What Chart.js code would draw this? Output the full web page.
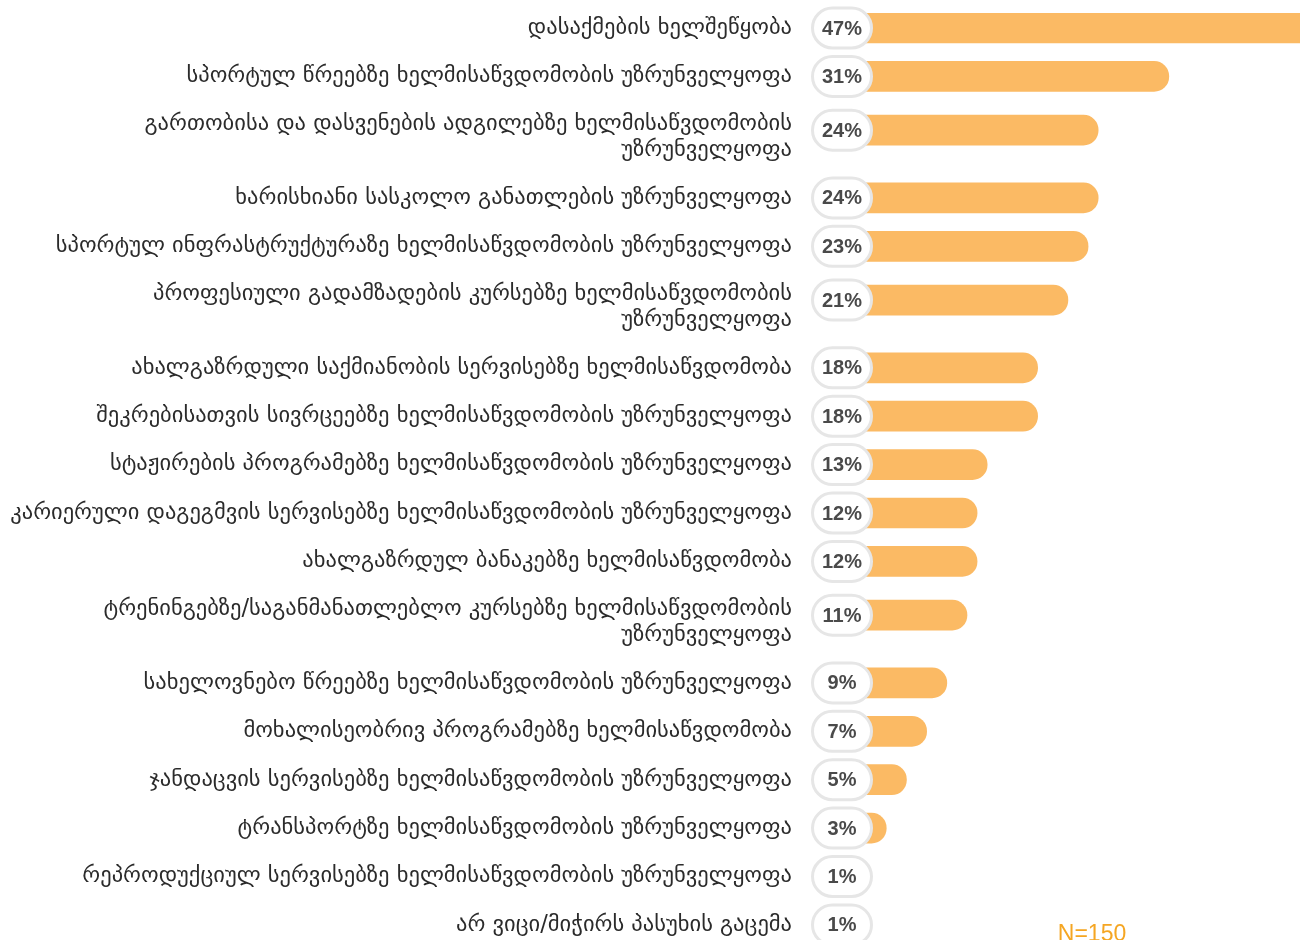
<!DOCTYPE html>
<html>
<head>
<meta charset="utf-8">
<script src="https://cdn.jsdelivr.net/npm/chart.js@4.4.1/dist/chart.umd.min.js"></script>
<style>
  html, body { margin: 0; padding: 0; background: #fff; }
  #wrap { position: relative; width: 1300px; height: 940px; }
</style>
</head>
<body>
<div id="wrap"><canvas id="chart"></canvas></div>
<script>
// categories (wrapped ones are given as line arrays)
const categories = [
  "დასაქმების ხელშეწყობა",
  "სპორტულ წრეებზე ხელმისაწვდომობის უზრუნველყოფა",
  ["გართობისა და დასვენების ადგილებზე ხელმისაწვდომობის", "უზრუნველყოფა"],
  "ხარისხიანი სასკოლო განათლების უზრუნველყოფა",
  "სპორტულ ინფრასტრუქტურაზე ხელმისაწვდომობის უზრუნველყოფა",
  ["პროფესიული გადამზადების კურსებზე ხელმისაწვდომობის", "უზრუნველყოფა"],
  "ახალგაზრდული საქმიანობის სერვისებზე ხელმისაწვდომობა",
  "შეკრებისათვის სივრცეებზე ხელმისაწვდომობის უზრუნველყოფა",
  "სტაჟირების პროგრამებზე ხელმისაწვდომობის უზრუნველყოფა",
  "კარიერული დაგეგმვის სერვისებზე ხელმისაწვდომობის უზრუნველყოფა",
  "ახალგაზრდულ ბანაკებზე ხელმისაწვდომობა",
  ["ტრენინგებზე/საგანმანათლებლო კურსებზე ხელმისაწვდომობის", "უზრუნველყოფა"],
  "სახელოვნებო წრეებზე ხელმისაწვდომობის უზრუნველყოფა",
  "მოხალისეობრივ პროგრამებზე ხელმისაწვდომობა",
  "ჯანდაცვის სერვისებზე ხელმისაწვდომობის უზრუნველყოფა",
  "ტრანსპორტზე ხელმისაწვდომობის უზრუნველყოფა",
  "რეპროდუქციულ სერვისებზე ხელმისაწვდომობის უზრუნველყოფა",
  "არ ვიცი/მიჭირს პასუხის გაცემა"
];

const values = [47, 31, 24, 24, 23, 21, 18, 18, 13, 12, 12, 11, 9, 7, 5, 3, 1, 1];

const sampleNote = "N=150";

// row layout: taller rows for wrapped labels
const ROW = 48.4, EXTRA_LINE = 24.7, BAR_SHIFT = 7, FIRST_ROW_Y = 28;
const lineCount = c => Array.isArray(c) ? c.length : 1;

let acc = 0;
const rowCenters = categories.map(c => {
  const h = ROW + EXTRA_LINE * (lineCount(c) - 1);
  const mid = acc + h / 2;
  acc += h;
  return mid;
});
const barCenters = rowCenters.map((m, i) => m - BAR_SHIFT * (lineCount(categories[i]) - 1));

const pillPlugin = {
  id: "pills",
  afterDatasetsDraw(chart) {
    const { ctx, chartArea } = chart;
    const meta = chart.getDatasetMeta(0);
    const w = 59, h = 40;
    ctx.save();
    meta.data.forEach((bar, i) => {
      const cx = chartArea.left - 14, cy = bar.y;
      ctx.beginPath();
      ctx.roundRect(cx - w / 2, cy - h / 2, w, h, h / 2);
      ctx.fillStyle = "#fff";
      ctx.fill();
      ctx.lineWidth = 3;
      ctx.strokeStyle = "#e6e6e6";
      ctx.stroke();
      ctx.fillStyle = "#4a4a4a";
      ctx.font = 'bold 20px "Liberation Sans", Arial, sans-serif';
      ctx.textAlign = "center";
      ctx.textBaseline = "middle";
      ctx.fillText(values[i] + "%", cx, cy + 1);
    });
    ctx.restore();
  },
  afterDraw(chart) {
    const { ctx } = chart;
    ctx.save();
    ctx.fillStyle = "#f5a623";
    ctx.font = '23px "Liberation Sans", Arial, sans-serif';
    ctx.textAlign = "center";
    ctx.textBaseline = "alphabetic";
    ctx.fillText(sampleNote, 1092, 941);
    ctx.restore();
  }
};

const chart = new Chart(document.getElementById("chart"), {
  type: "bar",
  data: {
    datasets: [{
      data: values.map((v, i) => ({ x: v, y: barCenters[i] })),
      backgroundColor: "#fbba64",
      borderWidth: 0,
      borderRadius: 15,
      borderSkipped: "start",
      barThickness: 30
    }]
  },
  options: {
    indexAxis: "y",
    responsive: true,
    maintainAspectRatio: false,
    animation: false,
    layout: { padding: 0 },
    plugins: {
      legend: { display: false },
      tooltip: { enabled: false }
    },
    scales: {
      x: {
        type: "linear",
        min: 0,
        max: 44,
        display: false
      },
      y: {
        type: "linear",
        reverse: true,
        offset: false,
        min: 0,
        max: 940,
        grid: { display: false, offset: false, drawTicks: true, tickLength: 64 },
        border: { display: false },
        afterBuildTicks: scale => {
          scale.ticks = rowCenters.map(v => ({ value: v }));
        },
        afterFit: scale => {
          scale.width = 856;
        },
        ticks: {
          autoSkip: false,
          padding: 0,
          color: "#2b2b2b",
          font: { family: '"DejaVu Sans", sans-serif', size: 22.5, lineHeight: 1.16 },
          callback: (value, index) => categories[index]
        }
      }
    }
  },
  plugins: [pillPlugin]
});

// keep one row unit = one pixel, whatever padding the axis reserves
const area = chart.chartArea;
const yOpts = chart.options.scales.y;
yOpts.min = barCenters[0] - (FIRST_ROW_Y - area.top);
yOpts.max = yOpts.min + (area.bottom - area.top);
chart.update();
</script>
</body>
</html>
